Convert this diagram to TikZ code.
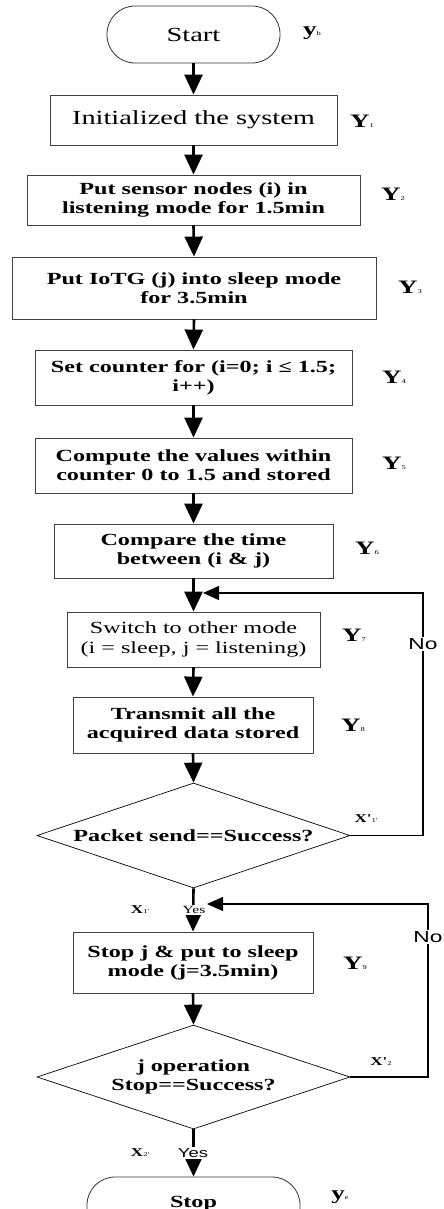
\documentclass[tikz,border=0pt]{standalone}
\usepackage{fontspec}
\setmainfont{Liberation Serif}
\newfontfamily\wserif{Liberation Serif}[FakeStretch=1.42]
\newfontfamily\wsans{Liberation Sans}[FakeStretch=1.42]
\usetikzlibrary{arrows.meta,shapes.geometric}
\newcommand{\tinysub}[1]{{\fontsize{6}{6}\selectfont\mdseries #1}}
\begin{document}
\begin{tikzpicture}[x=1pt,y=-1pt,
  box/.style={draw=black!75, line width=0.8pt, rectangle, inner sep=0pt, align=center,
    font={\wserif\bfseries\fontsize{17}{19}\selectfont}},
  rbox/.style={box, font={\wserif\fontsize{17}{20}\selectfont}},
  term/.style={draw=black!80, line width=0.8pt, rectangle, rounded corners=28pt, inner sep=0pt},
  dia/.style={draw=black, line width=0.7pt, diamond, aspect=2.98, inner sep=0pt, align=center,
    font={\wserif\bfseries\fontsize{17}{19}\selectfont}},
  arr/.style={line width=2.6pt, -{Triangle[length=20pt,width=18pt]}},
  loopl/.style={line width=1.3pt, -{Triangle[length=16pt,width=14pt]}},
  ylab/.style={inner sep=0pt, font={\wserif\bfseries\fontsize{19}{19}\selectfont}},
  xlab/.style={inner sep=0pt, font={\wserif\bfseries\fontsize{12}{12}\selectfont}},
  nolab/.style={inner sep=1pt, fill=white, font={\wsans\fontsize{16}{16}\selectfont}},
  yeslab/.style={inner sep=1pt, fill=white}
]
\useasboundingbox (0,0) rectangle (444,1209);
\clip (0,0) rectangle (444,1209);

% nodes
\node[term, minimum width=173pt, minimum height=57pt, font={\wserif\fontsize{20}{22}\selectfont}] (start) at (193.5,34.5) {Start};
\node[rbox, minimum width=287pt, minimum height=50pt, font={\wserif\fontsize{20}{22}\selectfont}] (b1) at (193.5,120) {Initialized the system};
\node[box, minimum width=333pt, minimum height=50pt] (b2) at (193.5,200) {Put sensor nodes (i) in\\listening mode for 1.5min};
\node[box, minimum width=364pt, minimum height=62pt] (b3) at (194,288) {Put IoTG (j) into sleep mode\\for 3.5min};
\node[box, minimum width=317pt, minimum height=55pt] (b4) at (193.5,377.5) {Set counter for (i=0; i ≤ 1.5;\\i++)};
\node[box, minimum width=317pt, minimum height=55pt] (b5) at (193.5,465.5) {Compute the values within\\counter 0 to 1.5 and stored};
\node[box, minimum width=279pt, minimum height=54pt] (b6) at (193.5,551) {Compare the time\\between (i \& j)};
\node[rbox, minimum width=253pt, minimum height=55pt] (b7) at (193.5,639.5) {Switch to other mode\\(i = sleep, j = listening)};
\node[box, minimum width=240pt, minimum height=56pt] (b8) at (193,725) {Transmit all the\\acquired data stored};
\node[dia, minimum width=313pt, minimum height=105pt] (d1) at (193.5,835.5) {Packet send==Success?};
\node[box, minimum width=240pt, minimum height=61pt] (b9) at (193,962.5) {Stop j \& put to sleep\\mode (j=3.5min)};
\node[dia, minimum width=313pt, minimum height=104pt] (d2) at (193.5,1077) {j operation\\Stop==Success?};
\node[term, minimum width=213pt, minimum height=60pt, font={\wserif\bfseries\fontsize{17}{19}\selectfont}] (stop) at (193.5,1207) {\raisebox{10pt}{Stop}};

% helper coordinates for loops
\coordinate (r1) at (423,593);
\coordinate (m1) at (203,593);
\coordinate (r2) at (428,904);
\coordinate (m2) at (207,904);

% connectors
\draw[arr] (start.south) -- (b1.north);
\draw[arr] (b1.south) -- (b2.north);
\draw[arr] (b2.south) -- (b3.north);
\draw[arr] (b3.south) -- (b4.north);
\draw[arr] (b4.south) -- (b5.north);
\draw[arr] (b5.south) -- (b6.north);
\draw[arr] (b6.south) -- (b7.north);
\draw[arr] (b7.south) -- (b8.north);
\draw[arr] (b8.south) -- (d1.north);
\draw[arr] (d1.south) -- (b9.north);
\draw[arr] (b9.south) -- (d2.north);
\draw[arr] (d2.south) -- (stop.north);
\draw[loopl] (d1.east) -| (r1) -- (m1);
\draw[loopl] (d2.east) -| (r2) -- (m2);

% branch labels
\node[nolab] (no1) at (423,644) {No};
\node[nolab] (no2) at (428,937) {No};
\node[yeslab, font={\wserif\fontsize{11}{11}\selectfont}] (yes1) at (194,910) {Yes};
\node[yeslab, font={\wsans\fontsize{13}{13}\selectfont}] (yes2) at (193,1153) {Yes};

% side labels
\node[ylab] (lyb) at (312,33) {y\tinysub{b}};
\node[ylab] (ly1) at (362,121) {Y\tinysub{1}};
\node[ylab] (ly2) at (393,194) {Y\tinysub{2}};
\node[ylab] (ly3) at (410,287) {Y\tinysub{3}};
\node[ylab] (ly4) at (394,377) {Y\tinysub{4}};
\node[ylab] (ly5) at (394,463) {Y\tinysub{5}};
\node[ylab] (ly6) at (367,548) {Y\tinysub{6}};
\node[ylab] (ly7) at (354,635) {Y\tinysub{7}};
\node[ylab] (ly8) at (353,725) {Y\tinysub{8}};
\node[ylab] (ly9) at (355,963) {Y\tinysub{9}};
\node[ylab] (lye) at (340,1197) {y\tinysub{e}};
\node[xlab] (lx1p) at (366,819) {X'\tinysub{1'}};
\node[xlab] (lx2p) at (381,1062) {X'\tinysub{2}};
\node[xlab] (lx1) at (140,910) {X\tinysub{1'}};
\node[xlab] (lx2) at (140,1153) {X\tinysub{2'}};
\end{tikzpicture}
\end{document}
